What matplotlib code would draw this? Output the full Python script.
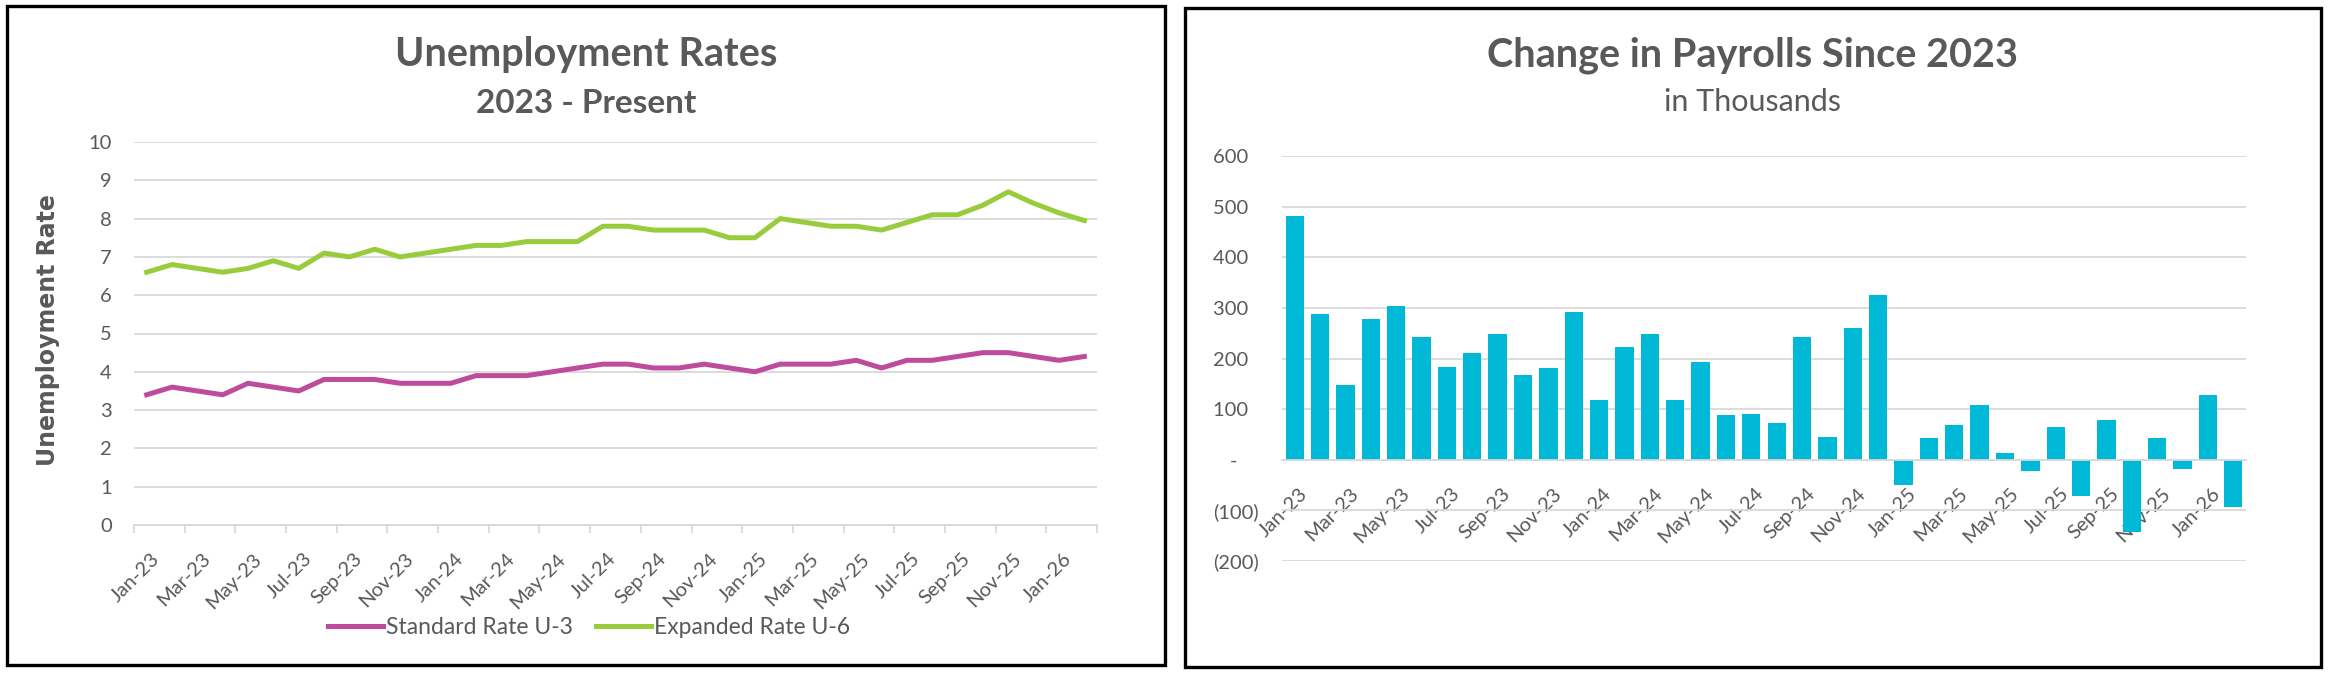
import numpy as np
import matplotlib
matplotlib.use('Agg')
import matplotlib.pyplot as plt
import matplotlib.transforms as mtrans
from matplotlib.patches import Rectangle
from matplotlib.ticker import FuncFormatter

# monthly categories, Jan-23 .. Feb-26
months = ['Jan-23', 'Feb-23', 'Mar-23', 'Apr-23', 'May-23', 'Jun-23', 'Jul-23', 'Aug-23',
          'Sep-23', 'Oct-23', 'Nov-23', 'Dec-23',
          'Jan-24', 'Feb-24', 'Mar-24', 'Apr-24', 'May-24', 'Jun-24', 'Jul-24', 'Aug-24',
          'Sep-24', 'Oct-24', 'Nov-24', 'Dec-24',
          'Jan-25', 'Feb-25', 'Mar-25', 'Apr-25', 'May-25', 'Jun-25', 'Jul-25', 'Aug-25',
          'Sep-25', 'Oct-25', 'Nov-25', 'Dec-25',
          'Jan-26', 'Feb-26']

# unemployment rates (%)
u3 = [3.4, 3.6, 3.5, 3.4, 3.7, 3.6, 3.5, 3.8, 3.8, 3.8, 3.7, 3.7,
      3.7, 3.9, 3.9, 3.9, 4.0, 4.1, 4.2, 4.2, 4.1, 4.1, 4.2, 4.1,
      4.0, 4.2, 4.2, 4.2, 4.3, 4.1, 4.3, 4.3, 4.4, 4.5, 4.5, 4.4,
      4.3, 4.4]
u6 = [6.6, 6.8, 6.7, 6.6, 6.7, 6.9, 6.7, 7.1, 7.0, 7.2, 7.0, 7.1,
      7.2, 7.3, 7.3, 7.4, 7.4, 7.4, 7.8, 7.8, 7.7, 7.7, 7.7, 7.5,
      7.5, 8.0, 7.9, 7.8, 7.8, 7.7, 7.9, 8.1, 8.1, 8.35, 8.7, 8.4,
      8.15, 7.95]

# change in payrolls (thousands)
payrolls = [482, 287, 147, 279, 303, 242, 184, 210, 248, 167, 182, 291,
            119, 222, 248, 119, 194, 88, 90, 72, 242, 44, 261, 325,
            -49, 42, 68, 109, 14, -22, 64, -71, 78, -142, 42, -18,
            127, -93]

plt.rcParams['font.family'] = ['Lato', 'DejaVu Sans']
txt = '#595959'
grid_col = '#D9D9D9'
W, H = 2330, 674

fig = plt.figure(figsize=(W / 100, H / 100), dpi=100)

# black frames around both charts
for x0, y0, x1, y1 in [(7, 6, 1165, 665), (1185, 8, 2321, 667)]:
    fig.patches.append(Rectangle((x0 / W, 1 - y1 / H), (x1 - x0) / W, (y1 - y0) / H,
                                 transform=fig.transFigure, fill=False,
                                 edgecolor='black', linewidth=2.4))

x = np.arange(len(months))
# Excel puts the rotated labels a little right of the category centre
shift = mtrans.ScaledTranslation(3 / 72, 0, fig.dpi_scale_trans)

# ---- left: unemployment rates ----
ax1 = fig.add_axes([134 / W, 1 - 525 / H, 963 / W, 383 / H])
l3, = ax1.plot(x, u3, color='#BE4B9C', lw=3.6, label='Standard Rate U-3')
l6, = ax1.plot(x, u6, color='#99CC3D', lw=3.6, label='Expanded Rate U-6')
ax1.set_xlim(-0.5, len(months) - 0.5)
ax1.set_ylim(0, 10)
ax1.set_yticks(range(0, 11))
ax1.grid(axis='y', color=grid_col, lw=1.3)
ax1.set_axisbelow(True)
for s in ['top', 'right', 'left']:
    ax1.spines[s].set_visible(False)
ax1.spines['bottom'].set_color(grid_col)
ax1.spines['bottom'].set_linewidth(1.3)
ax1.set_xticks(x[::2])
ax1.set_xticklabels(months[::2], rotation=45, ha='right', rotation_mode='anchor')
ax1.set_xticks(np.arange(-0.5, len(months), 2), minor=True)
ax1.tick_params(axis='x', which='major', length=0, pad=18, labelsize=14.5, labelcolor=txt)
ax1.tick_params(axis='x', which='minor', length=6, color=grid_col, width=1.3)
ax1.tick_params(axis='y', length=0, pad=16, labelsize=14.5, labelcolor=txt)
for lab in ax1.get_xticklabels():
    lab.set_transform(lab.get_transform() + shift)
ax1.set_ylabel('Unemployment Rate', family='DejaVu Sans', fontweight='bold',
               fontsize=17, color=txt)
ax1.yaxis.set_label_coords(-74 / 963, 0.509)

fig.text(586 / W, 1 - 66 / H, 'Unemployment Rates', ha='center', va='baseline',
         fontsize=28.5, fontweight='bold', color=txt)
fig.text(586 / W, 1 - 113 / H, '2023 - Present', ha='center', va='baseline',
         fontsize=24, fontweight='bold', color=txt)
fig.legend(handles=[l3, l6], loc='center', bbox_to_anchor=(589 / W, 1 - 628 / H),
           ncol=2, frameon=False, fontsize=16.5, handlelength=2.4, columnspacing=1.0,
           handletextpad=0.15, labelcolor=txt)

# ---- right: payroll changes ----
ax2 = fig.add_axes([1282 / W, 1 - 561 / H, 964 / W, 405 / H])
ax2.bar(x, payrolls, width=0.72, color='#00B9D6', zorder=2)
ax2.set_xlim(-0.5, len(months) - 0.5)
ax2.set_ylim(-200, 600)
ax2.set_yticks(range(-200, 601, 100))


def paren(v, pos):
    # accounting style: dash for zero, brackets for negatives
    if v == 0:
        return '-    '
    if v < 0:
        return '(%d)' % -v
    return '%d  ' % v


ax2.yaxis.set_major_formatter(FuncFormatter(paren))
ax2.grid(axis='y', color=grid_col, lw=1.3, zorder=0)
ax2.set_axisbelow(True)
for s in ['top', 'right', 'left']:
    ax2.spines[s].set_visible(False)
ax2.spines['bottom'].set_position(('data', 0))
ax2.spines['bottom'].set_color(grid_col)
ax2.spines['bottom'].set_linewidth(1.3)
ax2.spines['bottom'].set_zorder(3)
ax2.set_xticks(x[::2])
ax2.set_xticklabels(months[::2], rotation=45, ha='right', rotation_mode='anchor')
ax2.tick_params(axis='x', length=0, pad=18, labelsize=14.5, labelcolor=txt)
ax2.tick_params(axis='y', length=0, pad=17, labelsize=14.5, labelcolor=txt)
for lab in ax2.get_xticklabels():
    lab.set_transform(lab.get_transform() + shift)

fig.text(1753 / W, 1 - 67 / H, 'Change in Payrolls Since 2023', ha='center', va='baseline',
         fontsize=28.5, fontweight='bold', color=txt)
fig.text(1753 / W, 1 - 111 / H, 'in Thousands', ha='center', va='baseline',
         fontsize=22, color=txt)

fig.savefig('out.png', dpi=100)
